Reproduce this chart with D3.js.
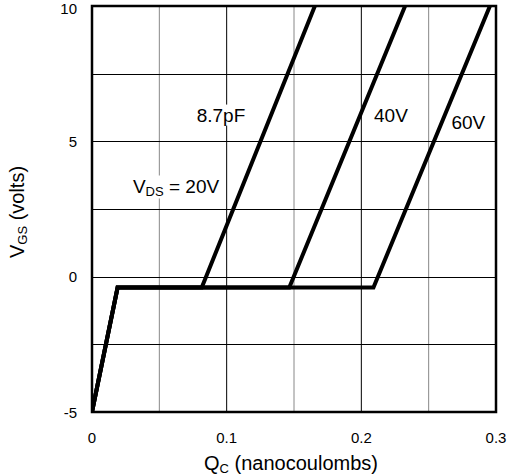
<!DOCTYPE html>
<html><head><meta charset="utf-8">
<script src="https://cdn.jsdelivr.net/npm/d3@7/dist/d3.min.js"></script>
<style>body{margin:0;background:#fff}svg{display:block;font-family:"Liberation Sans",Arial,sans-serif}</style>
</head><body><svg id="c" width="507" height="474"></svg>
<script>
const xTicks = [0, 0.1, 0.2, 0.3];
const yTicks = [-5, 0, 5, 10];
const xGrid = [0.05, 0.1, 0.15, 0.2, 0.25];
const yGrid = [-2.5, 0, 2.5, 5, 7.5];
const curve20 = [[0, -5], [0.019, -0.4], [0.0815, -0.4], [0.1655, 10]];
const curve40 = [[0, -5], [0.019, -0.4], [0.1465, -0.4], [0.2325, 10]];
const curve60 = [[0, -5], [0.019, -0.4], [0.2090, -0.4], [0.2955, 10]];
const labels = [
  {t: "8.7pF", x: 0.0958, y: 5.97},
  {t: "40V", x: 0.222, y: 5.97},
  {t: "60V", x: 0.2795, y: 5.68},
  {t: "VDS = 20V", x: 0.0624, y: 3.35}
];

const svg = d3.select("#c");
const L = 92, R = 496, T = 6, B = 412;
const x = d3.scaleLinear().domain([0, 0.3]).range([L, R]);
const y = d3.scaleLinear().domain([-5, 10]).range([B, T]);

const g = svg.append("g");
g.selectAll(".vg").data(xGrid).join("line")
  .attr("x1", d => x(d)).attr("x2", d => x(d)).attr("y1", T).attr("y2", B)
  .attr("stroke", (d, i) => i % 2 === 0 ? "#888" : "#000").attr("stroke-width", 1);
g.selectAll(".hg").data(yGrid).join("line")
  .attr("y1", d => Math.round(y(d)) + 0.5).attr("y2", d => Math.round(y(d)) + 0.5).attr("x1", L).attr("x2", R)
  .attr("stroke", "#000").attr("stroke-width", 1);

// labels with white backgrounds
const lab = svg.append("g").attr("font-size", 19);
labels.forEach(l => {
  const t = lab.append("text").attr("x", x(l.x)).attr("y", y(l.y)).attr("text-anchor", "middle")
    .attr("dominant-baseline", "central");
  if (l.t.startsWith("VDS")) {
    t.append("tspan").text("V");
    t.append("tspan").text("DS").attr("font-size", 13).attr("dy", 5);
    t.append("tspan").text(" = 20V").attr("dy", -5);
  } else t.text(l.t);
  const bb = t.node().getBBox();
  lab.insert("rect", "text").attr("x", bb.x - 2).attr("y", bb.y).attr("width", bb.width + 4).attr("height", bb.height).attr("fill", "#fff");
});

svg.append("defs").append("clipPath").attr("id", "clip").append("rect")
  .attr("x", L).attr("y", T).attr("width", R - L).attr("height", B - T);
const line = d3.line().x(d => x(d[0])).y(d => y(d[1]));
svg.append("g").attr("clip-path", "url(#clip)").selectAll("path").data([curve20, curve40, curve60]).join("path")
  .attr("d", line).attr("fill", "none").attr("stroke", "#000").attr("stroke-width", 4)
  .attr("stroke-linejoin", "miter");

svg.append("rect").attr("x", L).attr("y", T).attr("width", R - L).attr("height", B - T)
  .attr("fill", "none").attr("stroke", "#000").attr("stroke-width", 2.5);

svg.append("g").attr("font-size", 15).selectAll("text").data(xTicks).join("text")
  .attr("x", d => x(d)).attr("y", 437).attr("text-anchor", "middle").attr("dominant-baseline", "central")
  .text(d => d === 0 ? "0" : d3.format(".1f")(d));
svg.append("g").attr("font-size", 15).selectAll("text").data(yTicks).join("text")
  .attr("x", 77).attr("y", d => Math.max(y(d), 8)).attr("text-anchor", "end").attr("dominant-baseline", "central")
  .text(d => d);

const xt = svg.append("text").attr("x", 291).attr("y", 463).attr("text-anchor", "middle")
  .attr("dominant-baseline", "central").attr("font-size", 20);
xt.append("tspan").text("Q");
xt.append("tspan").text("C").attr("font-size", 13).attr("dy", 5);
xt.append("tspan").text(" (nanocoulombs)").attr("dy", -5);

const yt = svg.append("text").attr("transform", "translate(17,212) rotate(-90)").attr("text-anchor", "middle")
  .attr("dominant-baseline", "central").attr("font-size", 20);
yt.append("tspan").text("V");
yt.append("tspan").text("GS").attr("font-size", 13).attr("dy", 5);
yt.append("tspan").text(" (volts)").attr("dy", -5);
</script></body></html>
